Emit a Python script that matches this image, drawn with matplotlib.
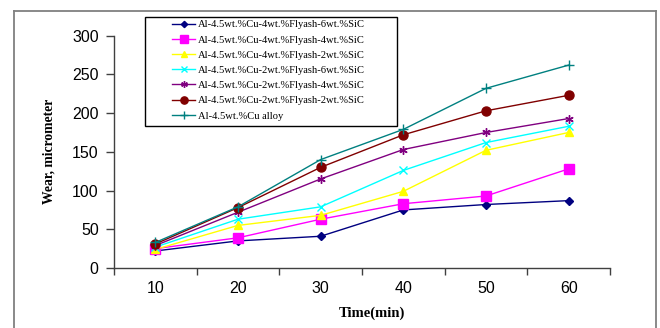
import matplotlib
matplotlib.use('Agg')
import matplotlib.pyplot as plt
from matplotlib.patches import Rectangle
from matplotlib.lines import Line2D
import numpy as np

# data
times = ['10', '20', '30', '40', '50', '60']
labels = ['Al-4.5wt.%Cu-4wt.%Flyash-6wt.%SiC',
          'Al-4.5wt.%Cu-4wt.%Flyash-4wt.%SiC',
          'Al-4.5wt.%Cu-4wt.%Flyash-2wt.%SiC',
          'Al-4.5wt.%Cu-2wt.%Flyash-6wt.%SiC',
          'Al-4.5wt.%Cu-2wt.%Flyash-4wt.%SiC',
          'Al-4.5wt.%Cu-2wt.%Flyash-2wt.%SiC',
          'Al-4.5wt.%Cu alloy']
fa4_sic6 = [22, 35, 41, 75, 82, 87]
fa4_sic4 = [25, 39, 63, 83, 93, 128]
fa4_sic2 = [24, 55, 68, 99, 152, 175]
fa2_sic6 = [27, 63, 79, 126, 162, 183]
fa2_sic4 = [29, 72, 115, 153, 175, 193]
fa2_sic2 = [31, 78, 130, 172, 203, 223]
alloy = [33, 79, 140, 179, 232, 262]

series = [fa4_sic6, fa4_sic4, fa4_sic2, fa2_sic6, fa2_sic4, fa2_sic2, alloy]
colors = ['#000080', '#FF00FF', '#FFFF00', '#00FFFF', '#800080', '#800000', '#008080']
markers = ['D', 's', '^', 'x', (6, 2, 0), 'o', '+']
msizes = [4, 6.5, 6, 6, 6, 6.5, 7]

fig = plt.figure(figsize=(6.6, 3.28), dpi=100)
ax = fig.add_axes([0.1727, 0.1829, 0.7515, 0.7083])

x = np.arange(len(times))
for vals, lab, c, m, ms in zip(series, labels, colors, markers, msizes):
    ax.plot(x, vals, color=c, marker=m, markersize=ms, linewidth=1, label=lab,
            markeredgewidth=1)

ax.set_xlim(-0.5, len(times) - 0.5)
ax.set_ylim(0, 300)
ax.set_yticks(range(0, 301, 50))
ax.set_xticks(x)
ax.set_xticklabels(times)
ax.set_xticks(np.arange(-0.5, len(times)), minor=True)
ax.tick_params(axis='x', which='major', length=0, pad=9)
ax.tick_params(axis='x', which='minor', length=5, width=1, color='#404040')
ax.tick_params(axis='y', length=6, width=1, color='#404040', pad=5)
for t in ax.get_xticklabels() + ax.get_yticklabels():
    t.set_family('Liberation Sans')
    t.set_fontsize(11.5)

for s in ['top', 'right']:
    ax.spines[s].set_visible(False)
for s in ['left', 'bottom']:
    ax.spines[s].set_color('#404040')
    ax.spines[s].set_linewidth(1)

ax.set_xlabel('Time(min)', family='Liberation Serif', fontweight='bold', fontsize=10.5, labelpad=3)
ax.xaxis.set_label_coords(0.52, -0.165)
ax.set_ylabel('Wear, micrometer', family='Liberation Serif', fontweight='bold', fontsize=9.8, labelpad=12)

# legend with box drawn separately
fig.patches.append(Rectangle((145 / 660, 1 - 126 / 328), 252 / 660, 109 / 328,
                             transform=fig.transFigure, fill=False,
                             edgecolor='black', linewidth=1))
fig.legend(loc='upper left', bbox_to_anchor=(172 / 660, 1 - 20 / 328),
           frameon=False, borderpad=0, borderaxespad=0,
           prop={'family': 'Liberation Serif', 'size': 7.6},
           handlelength=2.2, handletextpad=0.3, labelspacing=0.55, markerscale=0.8)

# outer frame
fc = '#808080'
fig.lines.append(Line2D([14 / 660, 14 / 660], [0, 1 - 11 / 328], transform=fig.transFigure, color=fc, linewidth=1.3))
fig.lines.append(Line2D([14 / 660, 656 / 660], [1 - 11 / 328, 1 - 11 / 328], transform=fig.transFigure, color=fc, linewidth=1.3))
fig.lines.append(Line2D([656 / 660, 656 / 660], [0, 1 - 11 / 328], transform=fig.transFigure, color=fc, linewidth=1.3))

fig.savefig('out.png', dpi=100)
